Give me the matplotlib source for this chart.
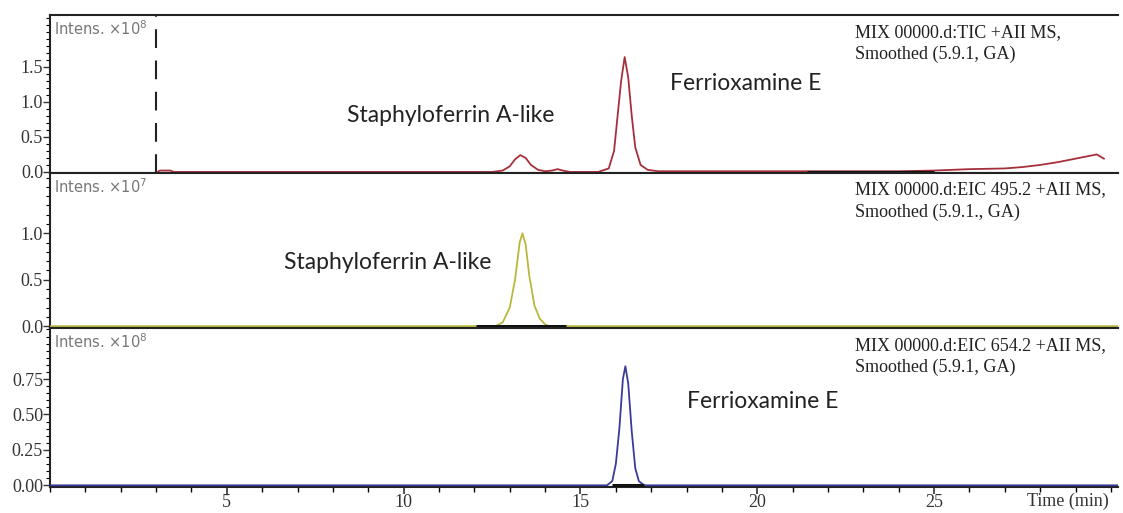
import matplotlib
matplotlib.use("Agg")
import matplotlib.pyplot as plt
from matplotlib.ticker import MultipleLocator

# TIC trace (min, x1e8)
tic_t = [3.05, 3.1, 3.4, 3.5, 12.5, 12.8, 13.0, 13.15, 13.3, 13.45, 13.6, 13.8, 14.0, 14.2,
         14.35, 14.5, 14.7, 15.5, 15.8, 15.95, 16.05, 16.15, 16.25, 16.35, 16.45, 16.55,
         16.7, 16.9, 17.2, 20.0, 24.0, 25.0, 26.0, 27.0, 27.5, 28.0, 28.5, 29.0, 29.3,
         29.6, 29.8]
tic_y = [0.0, 0.02, 0.02, 0.0, 0.0, 0.02, 0.08, 0.18, 0.24, 0.2, 0.1, 0.03, 0.01, 0.02,
         0.04, 0.02, 0.0, 0.0, 0.05, 0.3, 0.8, 1.3, 1.64, 1.35, 0.8, 0.35,
         0.1, 0.03, 0.01, 0.01, 0.01, 0.02, 0.04, 0.05, 0.07, 0.1, 0.14, 0.19, 0.22,
         0.25, 0.19]

# EIC 495.2 (min, x1e7)
eic495_t = [0.0, 12.6, 12.8, 13.0, 13.15, 13.28, 13.36, 13.45, 13.55, 13.7, 13.85, 14.0, 14.1, 30.2]
eic495_y = [0.0, 0.0, 0.04, 0.2, 0.5, 0.9, 1.0, 0.88, 0.55, 0.22, 0.08, 0.02, 0.0, 0.0]

# EIC 654.2 (min, x1e8)
eic654_t = [0.0, 15.75, 15.9, 16.0, 16.1, 16.2, 16.27, 16.35, 16.45, 16.55, 16.65, 16.8, 30.2]
eic654_y = [0.0, 0.0, 0.03, 0.15, 0.4, 0.75, 0.84, 0.72, 0.38, 0.12, 0.03, 0.0, 0.0]

# integration baselines (start, end in min)
base495 = [12.05, 14.6]
base654 = [15.9, 16.8]
base_tic = [21.4, 25.0]

x_ticks = [5, 10, 15, 20, 25]
tic_yticks = [0.0, 0.5, 1.0, 1.5]
eic495_yticks = [0.0, 0.5, 1.0]
eic654_yticks = [0.0, 0.25, 0.5, 0.75]

fig = plt.figure(figsize=(11.23, 5.13), dpi=100)
left, width = 50 / 1123, 1068 / 1123
ax1 = fig.add_axes([left, 1 - 173 / 513, width, 158 / 513])
ax2 = fig.add_axes([left, 1 - 328 / 513, width, 155 / 513])
ax3 = fig.add_axes([left, 1 - 487 / 513, width, 159 / 513])

serif = "Liberation Serif"
sans = "Lato"

panels = [
    (ax1, tic_t, tic_y, "#a5303c", (-0.015, 2.24), tic_yticks, 0.1, "%.1f", "8",
     "MIX 00000.d:TIC +AII MS,\nSmoothed (5.9.1, GA)", base_tic),
    (ax2, eic495_t, eic495_y, "#b8b83c", (-0.02, 1.65), eic495_yticks, 0.1, "%.1f", "7",
     "MIX 00000.d:EIC 495.2 +AII MS,\nSmoothed (5.9.1., GA)", base495),
    (ax3, eic654_t, eic654_y, "#3a3a9a", (-0.012, 1.11), eic654_yticks, 0.05, "%.2f", "8",
     "MIX 00000.d:EIC 654.2 +AII MS,\nSmoothed (5.9.1, GA)", base654),
]

for ax, t, y, col, yl, yt, mnr, fmt, exp, label, base in panels:
    ax.plot(t, y, color=col, lw=1.3, zorder=3)
    ax.plot(base, [0, 0], color="#111111", lw=2.2, zorder=4, solid_capstyle="butt")
    ax.set_xlim(0, 30.2)
    ax.set_ylim(*yl)
    ax.set_yticks(yt)
    ax.yaxis.set_minor_locator(MultipleLocator(mnr))
    ax.yaxis.set_major_formatter(plt.FormatStrFormatter(fmt))
    ax.tick_params(axis="y", which="major", length=5, width=1, direction="out",
                   labelsize=13, pad=0, colors="#333333")
    ax.tick_params(axis="y", which="minor", length=3, width=0.8, direction="out")
    for lb in ax.get_yticklabels():
        lb.set_fontfamily(serif)
    ax.spines["right"].set_visible(False)
    for s in ["left", "top", "bottom"]:
        ax.spines[s].set_linewidth(1.5)
        ax.spines[s].set_color("#222222")
    ax.text(0.004, 0.975, "Intens. $\\times$10$^{%s}$" % exp, transform=ax.transAxes,
            fontsize=10.5, color="#777777", family="Liberation Sans Narrow", va="top", ha="left")
    ax.text(0.754, 0.945, label, transform=ax.transAxes, fontsize=13, family=serif,
            va="top", ha="left", color="#222222", linespacing=1.4)

for ax in (ax1, ax2):
    ax.tick_params(axis="x", which="both", bottom=False, labelbottom=False)

ax3.set_xticks(x_ticks)
ax3.xaxis.set_minor_locator(MultipleLocator(1))
ax3.tick_params(axis="x", which="major", length=5, width=1.2, direction="out",
                labelsize=13, pad=0, colors="#333333")
ax3.tick_params(axis="x", which="minor", length=3.5, width=1, direction="out")
for lb in ax3.get_xticklabels():
    lb.set_fontfamily(serif)
fig.text(1068 / 1123, 1 - 501 / 513, "Time (min)", fontsize=13, family=serif,
         ha="center", va="center", color="#333333")

# dashed marker line in the TIC panel
ax1.axvline(3.0, color="#222222", lw=1.5, dashes=(9, 6), zorder=2)

# peak labels
ax1.text(11.33, 0.81, "Staphyloferrin A-like", fontsize=16.5, family=sans, ha="center", va="center", color="#222222")
ax1.text(19.66, 1.26, "Ferrioxamine E", fontsize=16.5, family=sans, ha="center", va="center", color="#222222")
ax2.text(9.55, 0.69, "Staphyloferrin A-like", fontsize=16.5, family=sans, ha="center", va="center", color="#222222")
ax3.text(20.14, 0.59, "Ferrioxamine E", fontsize=16.5, family=sans, ha="center", va="center", color="#222222")

fig.savefig("out.png", dpi=100, facecolor="white")
